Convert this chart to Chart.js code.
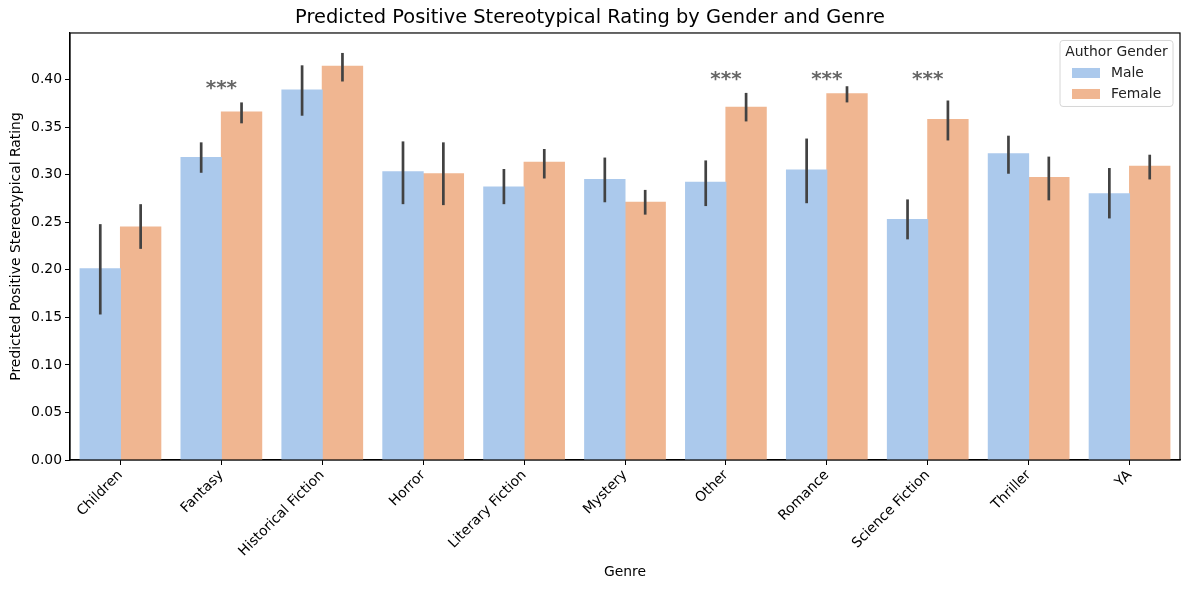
<!DOCTYPE html>
<html>
<head>
<meta charset="utf-8">
<script src="https://cdn.jsdelivr.net/npm/chart.js@4.4.1/dist/chart.umd.min.js"></script>
<style>
  html, body { margin: 0; padding: 0; background: #fff; }
  #wrap { width: 1189px; height: 590px; }
</style>
</head>
<body>
<div id="wrap"><canvas id="genreChart" width="1189" height="590"></canvas></div>
<script>
const genres = ["Children", "Fantasy", "Historical Fiction", "Horror", "Literary Fiction",
  "Mystery", "Other", "Romance", "Science Fiction", "Thriller", "YA"];

const maleMean = [0.201, 0.318, 0.389, 0.303, 0.287, 0.295, 0.292, 0.305, 0.253, 0.322, 0.280];
const maleLow  = [0.153, 0.302, 0.362, 0.269, 0.269, 0.271, 0.267, 0.270, 0.232, 0.301, 0.254];
const maleHigh = [0.248, 0.334, 0.415, 0.335, 0.306, 0.318, 0.315, 0.338, 0.274, 0.341, 0.307];

const femaleMean = [0.245, 0.366, 0.414, 0.301, 0.313, 0.271, 0.371, 0.385, 0.358, 0.297, 0.309];
const femaleLow  = [0.222, 0.354, 0.398, 0.268, 0.296, 0.258, 0.356, 0.376, 0.336, 0.273, 0.295];
const femaleHigh = [0.269, 0.376, 0.428, 0.334, 0.327, 0.284, 0.386, 0.393, 0.378, 0.319, 0.321];

// significance markers: genre index and height of the "***"
const sigGenres = [1, 6, 7, 8];
const sigHeights = [0.397, 0.406, 0.406, 0.406];

const MALE_COLOR = "#abc9ec";
const FEMALE_COLOR = "#f0b691";
const FONT = "'DejaVu Sans', sans-serif";
const TICK_SIZE = 13.9;
const STAR_SIZE = 20;

const errorBars = {
  id: "errorBars",
  afterDatasetsDraw(chart) {
    const { ctx, scales: { y } } = chart;
    const ranges = [[maleLow, maleHigh], [femaleLow, femaleHigh]];
    ctx.save();
    ctx.strokeStyle = "#424242";
    ctx.lineWidth = 2.7;
    ctx.lineCap = "butt";
    ranges.forEach(([lo, hi], d) => {
      chart.getDatasetMeta(d).data.forEach((bar, i) => {
        ctx.beginPath();
        ctx.moveTo(bar.x, y.getPixelForValue(lo[i]));
        ctx.lineTo(bar.x, y.getPixelForValue(hi[i]));
        ctx.stroke();
      });
    });

    ctx.fillStyle = "#666";
    ctx.font = "bold " + STAR_SIZE + "px " + FONT;
    ctx.textAlign = "center";
    ctx.textBaseline = "alphabetic";
    sigGenres.forEach((g, k) => {
      const x = chart.scales.x.getPixelForValue(g);
      ctx.fillText("***", x, y.getPixelForValue(sigHeights[k]) + 0.58 * STAR_SIZE);
    });
    ctx.restore();
  },
  afterDraw(chart) {
    const { ctx, chartArea: a } = chart;
    ctx.save();
    // full frame like matplotlib spines
    ctx.strokeStyle = "#000";
    ctx.lineWidth = 1.2;
    ctx.strokeRect(a.left, a.top, a.right - a.left, a.bottom - a.top);

    // legend box
    const lx = a.right - 120, ly = a.top + 7.5, lw = 113, lh = 66;
    ctx.beginPath();
    ctx.roundRect(lx, ly, lw, lh, 3);
    ctx.fillStyle = "rgba(255,255,255,0.85)";
    ctx.fill();
    ctx.strokeStyle = "#d6d6d6";
    ctx.lineWidth = 1;
    ctx.stroke();

    ctx.fillStyle = "#222";
    ctx.font = TICK_SIZE + "px " + FONT;
    ctx.textAlign = "center";
    ctx.textBaseline = "middle";
    ctx.fillText("Author Gender", lx + lw / 2, ly + 11.5);

    const items = [["Male", MALE_COLOR], ["Female", FEMALE_COLOR]];
    items.forEach(([label, color], i) => {
      const cy = ly + 32.5 + i * 21;
      ctx.fillStyle = color;
      ctx.fillRect(lx + 12, cy - 5, 28, 10);
      ctx.fillStyle = "#222";
      ctx.textAlign = "left";
      ctx.fillText(label, lx + 51, cy + 0.5);
    });
    ctx.restore();
  }
};

new Chart(document.getElementById("genreChart"), {
  type: "bar",
  data: {
    labels: genres,
    datasets: [
      { label: "Male", data: maleMean, backgroundColor: MALE_COLOR, borderWidth: 0, inflateAmount: 0.5 },
      { label: "Female", data: femaleMean, backgroundColor: FEMALE_COLOR, borderWidth: 0, inflateAmount: 0.5 }
    ]
  },
  options: {
    responsive: false,
    animation: false,
    devicePixelRatio: 1,
    layout: { padding: { left: 0, right: 9, top: 0, bottom: 0 } },
    datasets: { bar: { categoryPercentage: 0.8, barPercentage: 1.0 } },
    plugins: {
      legend: { display: false },
      tooltip: { enabled: false },
      title: {
        display: true,
        text: "Predicted Positive Stereotypical Rating by Gender and Genre",
        color: "#000",
        font: { family: FONT, size: 19.4, weight: "normal" },
        padding: { top: 6, bottom: 3.7 }
      }
    },
    scales: {
      x: {
        grid: { offset: false, drawOnChartArea: false, drawTicks: true, tickLength: 5, color: "#000" },
        border: { display: true, color: "#000", width: 1.2 },
        ticks: {
          color: "#000",
          font: { family: FONT, size: TICK_SIZE },
          minRotation: 45,
          maxRotation: 45,
          autoSkip: false,
          padding: 2
        },
        title: {
          display: true,
          text: "Genre",
          color: "#000",
          font: { family: FONT, size: TICK_SIZE },
          padding: { top: 0, bottom: 9.5 }
        },
        afterFit(scale) { scale.height = 130; }
      },
      y: {
        min: 0,
        max: 0.449,
        grid: { drawOnChartArea: false, drawTicks: true, tickLength: 5, color: "#000" },
        border: { display: true, color: "#000", width: 1.2 },
        ticks: {
          stepSize: 0.05,
          color: "#000",
          font: { family: FONT, size: TICK_SIZE },
          padding: 3,
          callback: (v) => Number(v).toFixed(2)
        },
        title: {
          display: true,
          text: "Predicted Positive Stereotypical Rating",
          color: "#000",
          font: { family: FONT, size: TICK_SIZE },
          padding: { top: 8, bottom: 0 }
        },
        afterBuildTicks(scale) {
          scale.ticks = scale.ticks.filter((t) => t.value <= 0.4001);
        },
        afterFit(scale) { scale.width = 70; }
      }
    }
  },
  plugins: [errorBars]
});
</script>
</body>
</html>
